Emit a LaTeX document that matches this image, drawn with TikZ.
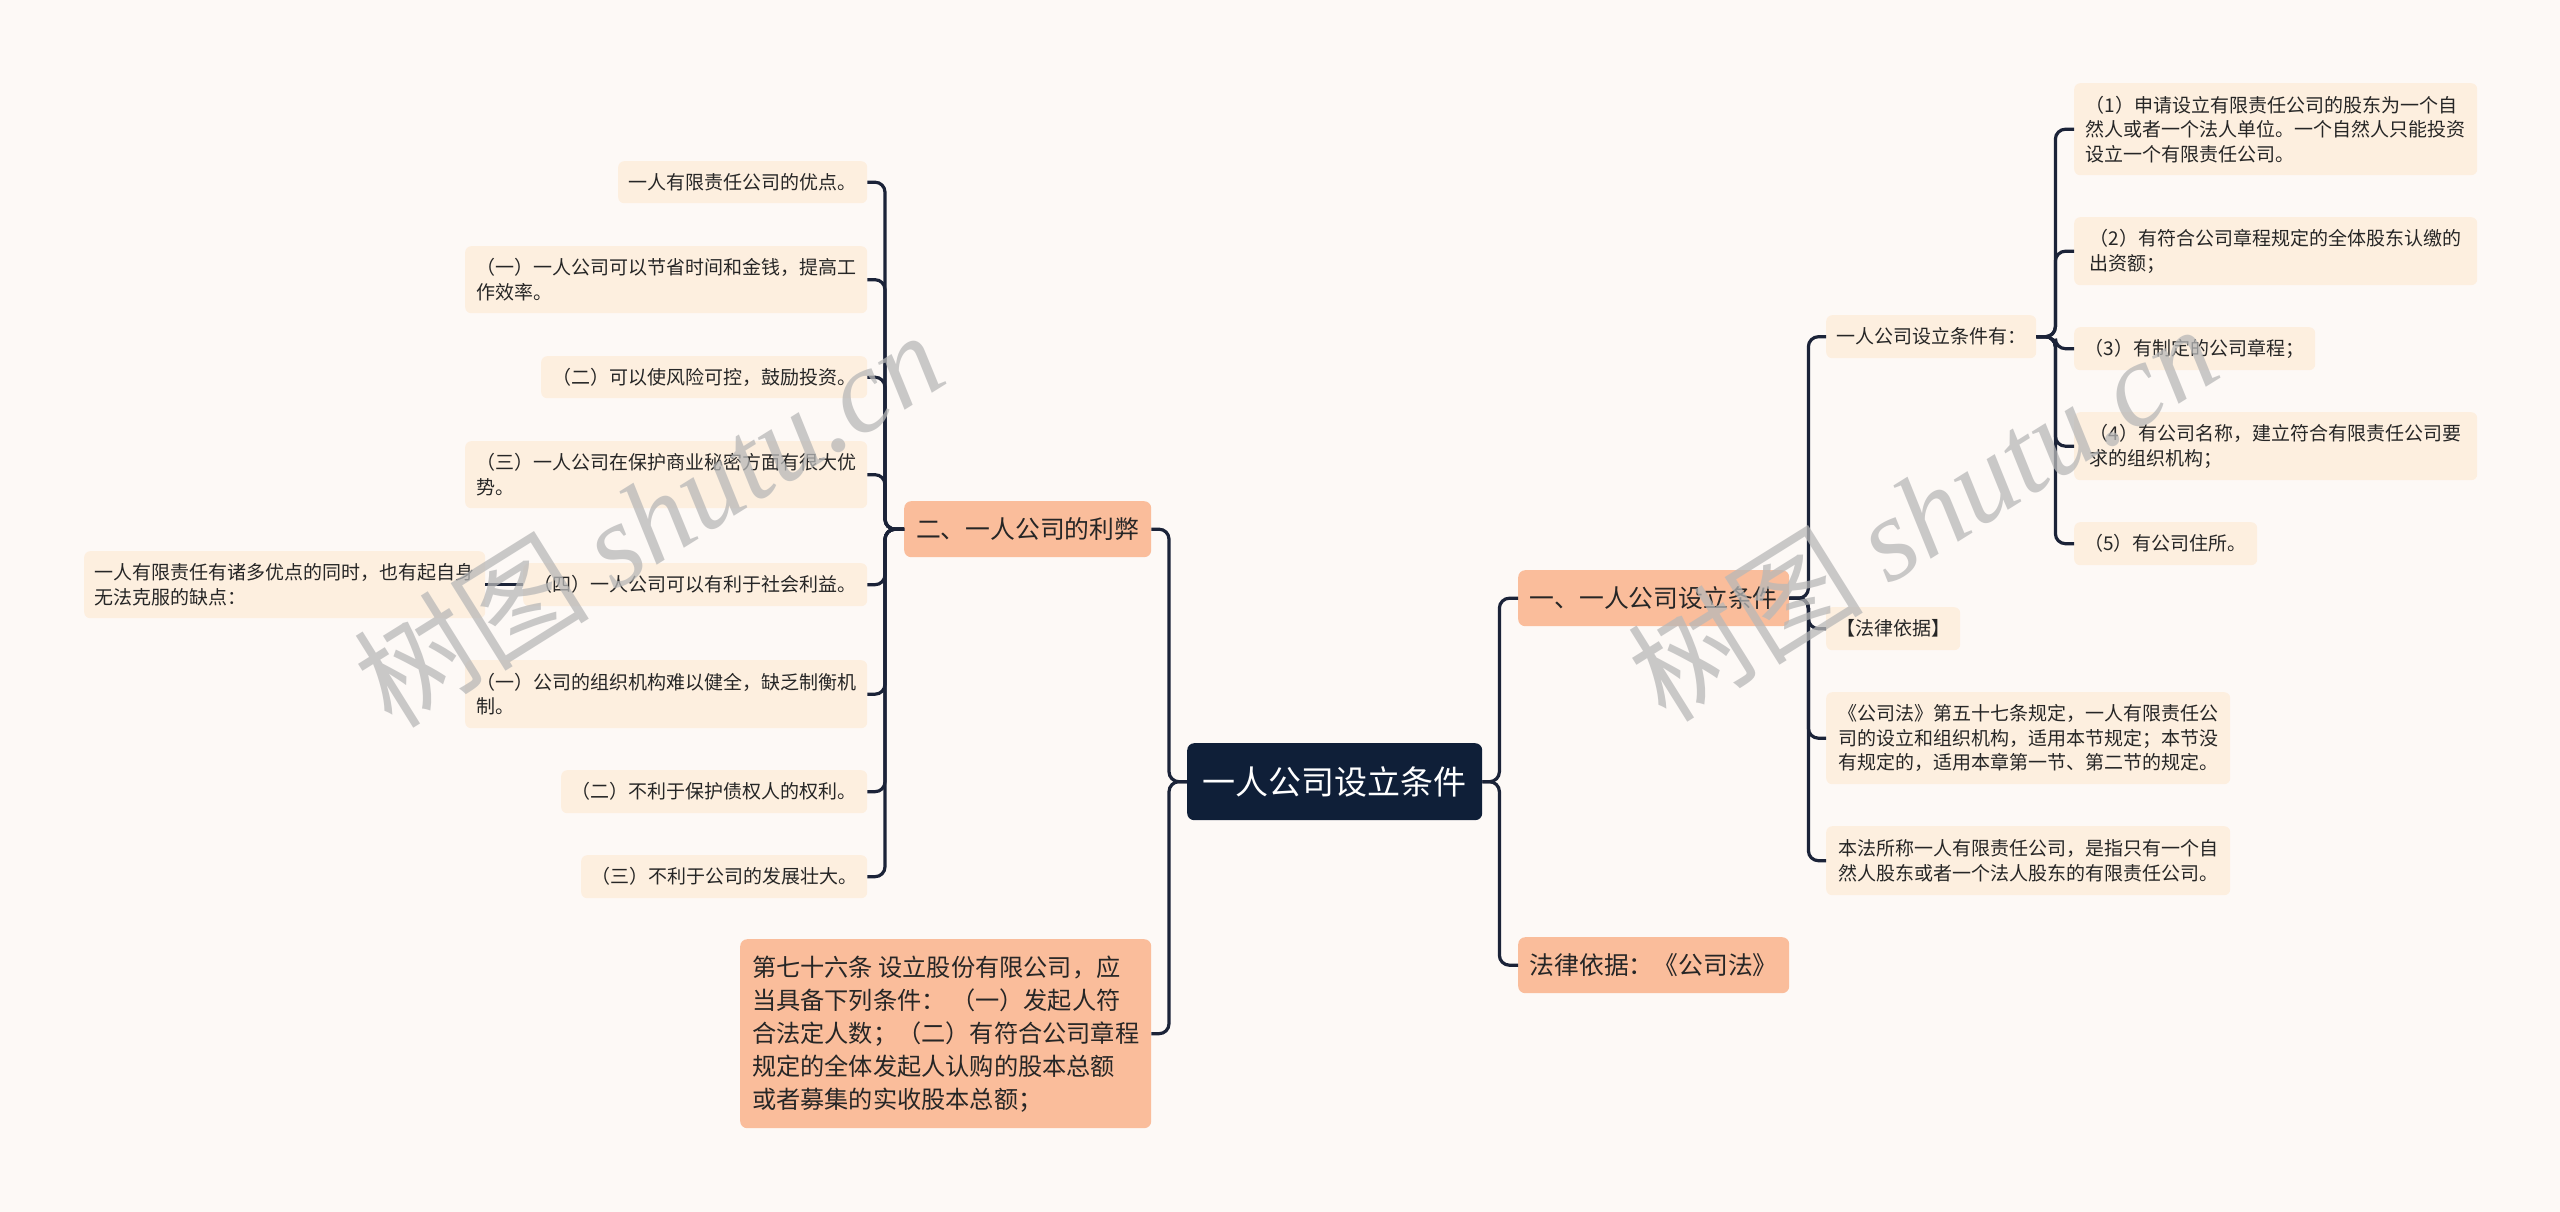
\documentclass[tikz,border=0pt]{standalone}
\usepackage{fontspec}
\setmainfont{Noto Sans CJK SC}
\newfontfamily\wmserif{Liberation Serif}
\definecolor{bgc}{HTML}{FDF9F6}
\definecolor{leafc}{HTML}{FDEFDF}
\definecolor{salc}{HTML}{FABD9B}
\definecolor{rootc}{HTML}{0F1F38}
\definecolor{linec}{HTML}{1B2338}
\definecolor{txtc}{HTML}{262626}
\tikzset{
  base/.style={anchor=north west, inner xsep=10pt, inner ysep=0pt, align=left, text=txtc},
  leaf/.style={base, fill=leafc, rounded corners=6pt, font=\fontsize{19}{24.5}\selectfont},
  lvone/.style={base, fill=salc, rounded corners=7pt, font=\fontsize{24.8}{33}\selectfont},
  rootbox/.style={base, fill=rootc, rounded corners=7pt, text=white, align=center, font=\fontsize{33}{40}\selectfont},
  conn/.style={draw=linec, line width=3.2pt, rounded corners=10pt},
  wm/.style={rotate=32, text=black!28, opacity=0.75, font=\fontsize{118}{130}\selectfont}
}
\begin{document}
\begin{tikzpicture}[x=1pt,y=-1pt]
\useasboundingbox[fill=bgc] (0,0) rectangle (2560,1212);

% root
\node[rootbox, minimum width=295, minimum height=77] (root) at (1187,743) {一人公司设立条件};

% right level 1
\node[lvone, minimum width=271, minimum height=56] (r1) at (1518,570) {一、一人公司设立条件};
\node[lvone, minimum width=271, minimum height=56] (r2) at (1518,937) {法律依据：《公司法》};

% right level 2
\node[leaf, minimum width=210, minimum height=43] (ra) at (1826,315) {一人公司设立条件有：};
\node[leaf, minimum width=134, minimum height=43] (rb) at (1826,607) {【法律依据】};
\node[leaf, minimum width=404, minimum height=92] (rc) at (1826,692) {《公司法》第五十七条规定，一人有限责任公\\司的设立和组织机构，适用本节规定；本节没\\有规定的，适用本章第一节、第二节的规定。};
\node[leaf, minimum width=404, minimum height=69] (rd) at (1826,826) {本法所称一人有限责任公司，是指只有一个自\\然人股东或者一个法人股东的有限责任公司。};

% right level 3
\node[leaf, minimum width=403, minimum height=92] (a1) at (2074,83) {（1）申请设立有限责任公司的股东为一个自\\然人或者一个法人单位。一个自然人只能投资\\设立一个有限责任公司。};
\node[leaf, minimum width=403, minimum height=68] (a2) at (2074,217) {（2）有符合公司章程规定的全体股东认缴的\\出资额；};
\node[leaf, minimum width=241, minimum height=43] (a3) at (2074,327) {（3）有制定的公司章程；};
\node[leaf, minimum width=403, minimum height=68] (a4) at (2074,412) {（4）有公司名称，建立符合有限责任公司要\\求的组织机构；};
\node[leaf, minimum width=183, minimum height=43] (a5) at (2074,522) {（5）有公司住所。};

% left level 1
\node[lvone, minimum width=247, minimum height=56] (l1) at (904,501) {二、一人公司的利弊};
\node[lvone, minimum width=411, minimum height=189, inner xsep=8pt, font=\fontsize{24.2}{33}\selectfont] (l2) at (740,939) {第七十六条 设立股份有限公司，应\\当具备下列条件： （一）发起人符\\合法定人数；（二）有符合公司章程\\规定的全体发起人认购的股本总额\\或者募集的实收股本总额；};

% left level 2
\node[leaf, minimum width=249, minimum height=42] (b1) at (618,161) {一人有限责任公司的优点。};
\node[leaf, minimum width=402, minimum height=67] (b2) at (465,246) {（一）一人公司可以节省时间和金钱，提高工\\作效率。};
\node[leaf, minimum width=326, minimum height=42] (b3) at (541,356) {（二）可以使风险可控，鼓励投资。};
\node[leaf, minimum width=402, minimum height=67] (b4) at (465,441) {（三）一人公司在保护商业秘密方面有很大优\\势。};
\node[leaf, minimum width=344, minimum height=43] (b5) at (523,563) {（四）一人公司可以有利于社会利益。};
\node[leaf, minimum width=402, minimum height=68] (b6) at (465,660) {（一）公司的组织机构难以健全，缺乏制衡机\\制。};
\node[leaf, minimum width=306, minimum height=43] (b7) at (561,770) {（二）不利于保护债权人的权利。};
\node[leaf, minimum width=286, minimum height=43] (b8) at (581,855) {（三）不利于公司的发展壮大。};
\node[leaf, minimum width=401, minimum height=67] (b9) at (84,551) {一人有限责任有诸多优点的同时，也有起自身\\无法克服的缺点：};

% connectors right
\foreach \c in {r1,r2} \draw[conn] (root.east) -- ++(17,0) |- (\c.west);
\foreach \c in {ra,rb,rc,rd} \draw[conn] (r1.east) -- ++(19,0) |- (\c.west);
\foreach \c in {a1,a2,a3,a4,a5} \draw[conn] (ra.east) -- ++(19,0) |- (\c.west);
% connectors left
\foreach \c in {l1,l2} \draw[conn] (root.west) -- ++(-18,0) |- (\c.east);
\foreach \c in {b1,b2,b3,b4,b5,b6,b7,b8} \draw[conn] (l1.west) -- ++(-19,0) |- (\c.east);
\draw[conn] (b5.west) -- (b9.east);

% watermarks
\node[wm] (wm1) at (648,518) {树图 {\wmserif\itshape shutu.cn}};
\node[wm] (wm2) at (1922,512) {树图 {\wmserif\itshape shutu.cn}};
\end{tikzpicture}
\end{document}
